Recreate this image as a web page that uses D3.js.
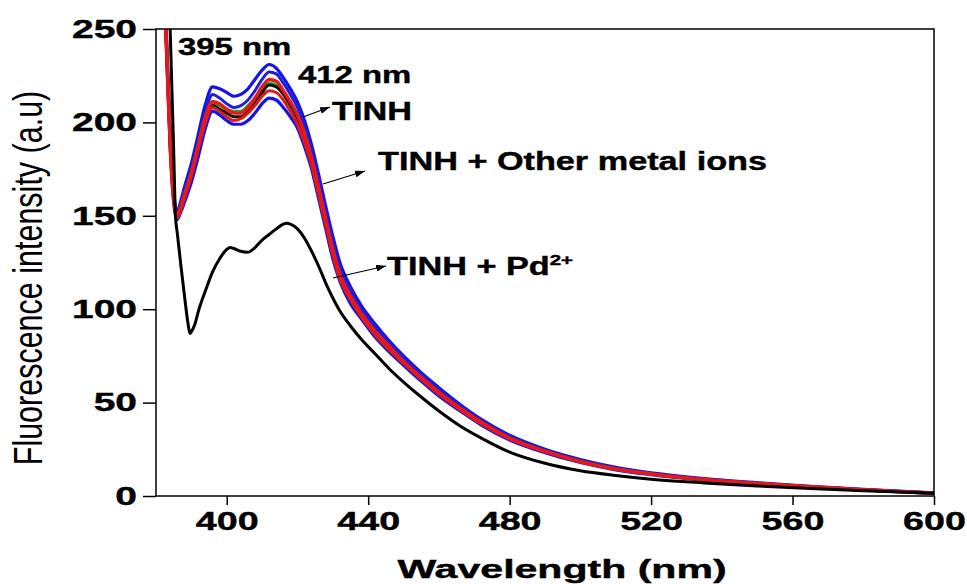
<!DOCTYPE html>
<html>
<head>
<meta charset="utf-8">
<script src="https://cdnjs.cloudflare.com/ajax/libs/d3/7.8.5/d3.min.js"></script>
<style>
  body { margin: 0; background: #fff; }
  text { font-family: "Liberation Sans", Arial, sans-serif; }
</style>
</head>
<body>
<script>
// wavelengths (nm) shared by the TINH / TINH + metal ion spectra
const wl = [381, 382, 383, 384, 385, 386, 387, 388,
  390, 392, 394, 396, 398, 400, 402, 404, 406, 408, 410, 412, 414, 416, 418, 420, 422, 424, 426, 428, 430, 432,
  435, 438, 442, 446, 450, 455, 460, 466, 472, 480,
  490, 500, 510, 520,
  535, 550, 565, 580, 600];

// TINH + other metal ions (blue traces)
const blueA = [335, 295, 245, 195, 163, 152, 158, 165,
  178, 194, 210, 219, 218, 216, 214, 215, 218, 223, 228, 231, 229, 224, 218, 211, 201, 188, 172, 155, 139, 125,
  112, 102, 92, 83, 75, 66, 58, 49, 41, 32.5,
  25, 19.5, 15.3, 12.4,
  9.3, 7.1, 5.2, 3.5, 1.7];
const blueB = [325, 285, 236, 186, 157, 148, 152, 157,
  168, 182, 197, 206, 204, 201, 199, 199, 201, 205, 210, 213, 212, 208, 203, 197, 187, 175, 159, 143, 127, 115,
  103, 95, 85, 77, 70, 61.5, 53.5, 45.5, 38, 30,
  23.2, 17.9, 14, 11.4,
  8.5, 6.5, 4.7, 3.2, 1.4];
const blueC = [332, 292, 242, 192, 161, 151, 156, 163,
  175, 191, 206, 215, 213, 210, 208, 209, 212, 217, 223, 227, 226, 221, 215, 208, 198, 185, 169, 152, 136, 122,
  110, 100, 90, 82, 74, 65, 57, 48, 40.5, 32,
  24.6, 19, 15, 12.1,
  9, 6.9, 5, 3.4, 1.6];
const green = [330, 290, 240, 190, 160, 150, 155, 161,
  173, 188, 203, 210, 209, 207, 206, 206, 209, 213, 218, 221, 220, 216, 210, 203, 193, 180, 164, 147, 131, 118,
  106, 97, 87, 79, 71.5, 63, 55, 46.5, 39, 31,
  24, 18.5, 14.5, 11.8,
  8.8, 6.7, 4.9, 3.3, 1.5];
// TINH alone
const tinh = [330, 290, 240, 190, 160, 150, 155, 160,
  172, 187, 202, 209, 207, 205, 203, 203, 206, 211, 216, 220, 219, 215, 209, 202, 192, 179, 163, 146, 130, 117,
  106, 97, 87, 79, 71.5, 63, 55, 46.5, 39, 31,
  24, 18.5, 14.5, 11.8,
  8.8, 6.7, 4.9, 3.3, 1.5];
const redB = [328, 288, 238, 188, 158, 149, 153, 159,
  171, 186, 200, 208, 206, 203, 201, 202, 205, 209, 214, 217, 216, 212, 206, 199, 189, 177, 161, 145, 129, 116,
  105, 96, 86, 78, 71, 62.5, 54.5, 46, 38.5, 30.5,
  23.6, 18.2, 14.3, 11.6,
  8.7, 6.6, 4.8, 3.2, 1.5];
const redA = [330, 290, 240, 190, 160, 150, 155, 161,
  173, 188, 203, 211, 210, 207, 205, 205, 208, 213, 219, 223, 222, 217, 211, 204, 194, 181, 165, 148, 132, 119,
  107, 98, 88, 80, 72, 63.5, 55.5, 47, 39.5, 31,
  24, 18.5, 14.5, 11.8,
  8.8, 6.7, 4.9, 3.3, 1.5];

// TINH + Pd2+ (quenched)
const pdWl = [382, 383, 384, 385, 385.5, 386, 387, 388, 389, 389.6,
  390, 391, 392,
  394, 396, 398, 400, 401, 402, 404, 406, 408, 410, 412,
  414, 416, 417, 418, 420,
  422, 424, 426, 428, 430, 432,
  435, 438, 442, 446, 450, 455, 460, 466, 472, 480,
  490, 500, 510, 520,
  535, 550, 565, 580, 600];
const pd = [340, 300, 250, 185, 150, 141, 124, 108, 93, 87,
  88, 92, 99,
  110, 120, 127, 132, 133, 132.5, 131, 130.5, 133, 137, 140,
  143, 145.5, 146, 145.5, 143,
  138, 131, 123, 114, 106, 99,
  91, 84, 76, 68, 61, 53, 45.5, 37.5, 31, 23.5,
  17.5, 13.5, 11, 9,
  7, 5.4, 4, 2.8, 1.5];

const xTicks = [400, 440, 480, 520, 560, 600];
const yTicks = [0, 50, 100, 150, 200, 250];

// set the dimensions and margins of the graph
var W = 967, H = 584;
var margin = {top: 29, right: 33, bottom: 88, left: 156},
    width = W - margin.left - margin.right,
    height = H - margin.top - margin.bottom;

// glyphs in the source look horizontally stretched
var SX = 1.37;

var svg = d3.select("body").append("svg")
    .attr("width", W)
    .attr("height", H);

var defs = svg.append("defs");
defs.append("clipPath").attr("id", "plot")
  .append("rect").attr("width", width).attr("height", height);
defs.append("marker")
    .attr("id", "head")
    .attr("viewBox", "0 0 10 7")
    .attr("refX", 10).attr("refY", 3.5)
    .attr("markerWidth", 10).attr("markerHeight", 7)
    .attr("markerUnits", "userSpaceOnUse")
    .attr("orient", "auto")
  .append("path").attr("d", "M0,0 L10,3.5 L0,7 z").attr("fill", "#000");

var g = svg.append("g")
    .attr("transform", "translate(" + margin.left + "," + margin.top + ")");

var x = d3.scaleLinear().domain([380, 600]).range([0, width]);
var y = d3.scaleLinear().domain([0, 250]).range([height, 0]);

var line = d3.line()
    .x(d => x(d[0]))
    .y(d => y(d[1]))
    .curve(d3.curveMonotoneX);

var series = [
  {v: blueA, wl: wl, c: "#1414e6", w: 3.2},
  {v: blueB, wl: wl, c: "#1414e6", w: 3.2},
  {v: blueC, wl: wl, c: "#2020d8", w: 3},
  {v: green, wl: wl, c: "#22b022", w: 3},
  {v: tinh, wl: wl, c: "#111", w: 3},
  {v: redB, wl: wl, c: "#d81c1c", w: 3},
  {v: redA, wl: wl, c: "#e81818", w: 3.5},
  {v: pd, wl: pdWl, c: "#000", w: 3}
];

var plot = g.append("g").attr("clip-path", "url(#plot)");
plot.selectAll("path")
    .data(series)
    .enter().append("path")
      .attr("d", s => line(s.wl.map((w, i) => [w, s.v[i]])))
      .attr("fill", "none")
      .attr("stroke", s => s.c)
      .attr("stroke-width", s => s.w)
      .attr("stroke-linejoin", "round");

// frame
g.append("rect")
    .attr("width", width).attr("height", height)
    .attr("fill", "none").attr("stroke", "#000").attr("stroke-width", 1.5);

// axes
var xAxis = g.append("g")
    .attr("transform", "translate(0," + height + ")")
    .call(d3.axisBottom(x).tickValues(xTicks).tickSize(9).tickSizeOuter(0).tickPadding(7));
var yAxis = g.append("g")
    .call(d3.axisLeft(y).tickValues(yTicks).tickSize(13).tickSizeOuter(0));

[xAxis, yAxis].forEach(a => {
  a.select(".domain").remove();
  a.selectAll("line").attr("stroke", "#000").attr("stroke-width", 1.5);
  a.selectAll("text")
    .attr("fill", "#000")
    .attr("stroke", "#000").attr("stroke-width", 0.4)
    .style("font-size", "26px")
    .style("font-weight", "bold")
    .style("font-family", "Liberation Sans, Arial, sans-serif");
});
// stretch the tick labels like the source
xAxis.selectAll(".tick text")
    .attr("transform", "scale(1.45,1)");
yAxis.selectAll(".tick text")
    .attr("x", 0)
    .attr("transform", "translate(-19,0) scale(1.5,1)");

// text helper: stretched label
function label(txt, px, py, size, bold, sx) {
  return svg.append("text")
    .attr("transform", "translate(" + px + "," + py + ") scale(" + (sx || SX) + ",1)")
    .style("font-size", size + "px")
    .style("font-weight", bold ? "bold" : "normal")
    .attr("fill", "#000")
    .attr("stroke", bold ? "#000" : "none").attr("stroke-width", 0.4)
    .text(txt);
}

// axis titles
label("Wavelength (nm)", 562, 578, 26, true, 1.58)
    .attr("text-anchor", "middle");
svg.append("text")
    .attr("transform", "translate(42,278) scale(1.35,1) rotate(-90)")
    .attr("text-anchor", "middle")
    .style("font-size", "30.5px")
    .attr("fill", "#000")
    .text("Fluorescence intensity (a.u)");

// peak annotations
label("395 nm", 178, 55, 24, true);
label("412 nm", 298, 83, 24, true);
label("TINH", 332, 120, 25, true);
label("TINH + Other metal ions", 378, 170, 25, true);
var pdLab = label("TINH + Pd", 387, 275, 25, true);
pdLab.append("tspan").attr("dy", -10).style("font-size", "15px").text("2+");

// arrows
var arrows = [
  [[303, 117], [330, 107]],
  [[323, 184], [365, 171]],
  [[333, 278], [386, 266]]
];
svg.selectAll("line.arrow")
    .data(arrows)
    .enter().append("line")
      .attr("class", "arrow")
      .attr("x1", d => d[0][0]).attr("y1", d => d[0][1])
      .attr("x2", d => d[1][0]).attr("y2", d => d[1][1])
      .attr("stroke", "#000").attr("stroke-width", 1.2)
      .attr("marker-end", "url(#head)");
</script>
</body>
</html>
